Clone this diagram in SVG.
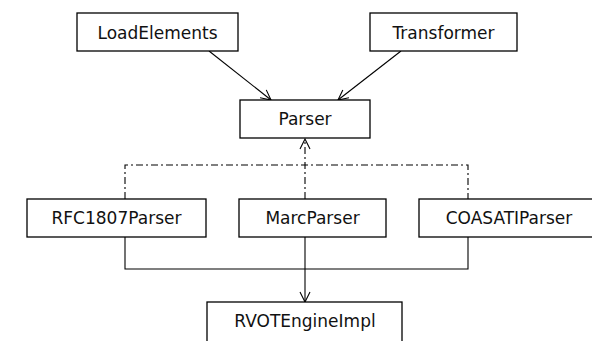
<svg xmlns="http://www.w3.org/2000/svg" width="592" height="341" viewBox="0 0 592 341">
<defs>
<style>
.box{fill:#fff;stroke:#000;stroke-width:1.3}
.lbl{font-family:"DejaVu Sans",Verdana,sans-serif;font-size:17px;fill:#111;text-anchor:middle}
.ln{fill:none;stroke:#000;stroke-width:1.1}
.dd{fill:none;stroke:#000;stroke-width:1.1;stroke-dasharray:7 3 2 3}
</style>
<marker id="open" viewBox="0 0 12 12" refX="11" refY="6" markerWidth="12" markerHeight="12" markerUnits="userSpaceOnUse" orient="auto">
<path d="M1,1 L11,6 L1,11" fill="none" stroke="#000" stroke-width="1.1"/>
</marker>
</defs>
<rect width="592" height="341" fill="#fff"/>
<g id="connectors">
<line class="ln" x1="209" y1="51" x2="271" y2="100" marker-end="url(#open)"/>
<line class="ln" x1="401" y1="51" x2="338" y2="100" marker-end="url(#open)"/>
<path class="dd" d="M125,199 V165 H468 V199"/>
<path class="dd" d="M305,199 V139" marker-end="url(#open)"/>
<path class="ln" d="M125,237 V269 H468 V237"/>
<path class="ln" d="M305,237 V302" marker-end="url(#open)"/>
</g>
<g id="LoadElements"><rect class="box" x="77" y="13" width="161" height="38"/><text class="lbl" x="157.5" y="38.5">LoadElements</text></g>
<g id="Transformer"><rect class="box" x="370" y="13" width="147" height="38"/><text class="lbl" x="443.5" y="38.5">Transformer</text></g>
<g id="Parser"><rect class="box" x="240" y="100" width="130" height="38"/><text class="lbl" x="305" y="125">Parser</text></g>
<g id="RFC1807Parser"><rect class="box" x="27" y="199" width="179" height="38"/><text class="lbl" x="116.5" y="224">RFC1807Parser</text></g>
<g id="MarcParser"><rect class="box" x="239" y="199" width="147" height="38"/><text class="lbl" x="312.5" y="224">MarcParser</text></g>
<g id="COASATIParser"><rect class="box" x="419" y="199" width="181" height="38"/><text class="lbl" x="509" y="224">COASATIParser</text></g>
<g id="RVOTEngineImpl"><rect class="box" x="207" y="302" width="195" height="45"/><text class="lbl" x="305" y="327">RVOTEngineImpl</text></g>
</svg>
